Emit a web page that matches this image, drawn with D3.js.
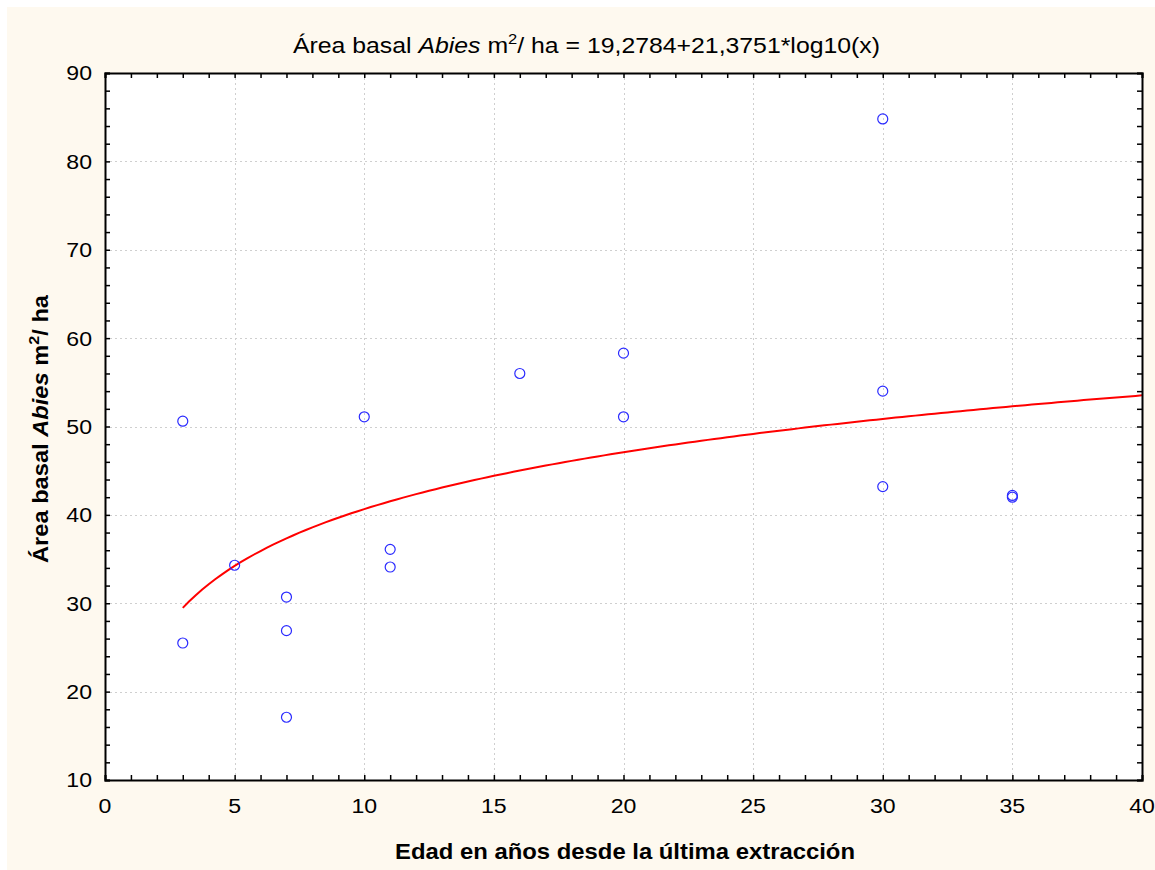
<!DOCTYPE html>
<html><head><meta charset="utf-8">
<script src="https://cdn.jsdelivr.net/npm/d3@7"></script>
<style>
html,body{margin:0;padding:0;background:#fff;}
svg{display:block;}
text{font-family:"Liberation Sans",Arial,sans-serif;}
</style></head>
<body>
<svg id="chart" width="1155" height="870"></svg>
<script>
const xValues = [3, 3, 5, 7, 7, 7, 10, 11, 11, 16, 20, 20, 30, 30, 30, 35, 35];
const yValues = [50.6, 25.5, 34.3, 30.7, 26.9, 17.1, 51.1, 36.1, 34.1, 56.0, 58.3, 51.1, 84.8, 54.0, 43.2, 42.2, 42.0];
const fitCoefficients = [19.2784, 21.3751]; // y = a + b*log10(x)
const fitRange = [3, 40];
const xTicks = [0, 5, 10, 15, 20, 25, 30, 35, 40];
const yTicks = [10, 20, 30, 40, 50, 60, 70, 80, 90];

const svg = d3.select("#chart");
svg.append("rect").attr("x", 7).attr("y", 7).attr("width", 1148).attr("height", 863).attr("fill", "#fef9ef");

const L = 105, R = 1142, T = 73, B = 780;
const x = d3.scaleLinear().domain([0, 40]).range([L, R]);
const y = d3.scaleLinear().domain([10, 90]).range([B, T]);

svg.append("rect").attr("x", L).attr("y", T).attr("width", R - L).attr("height", B - T).attr("fill", "#fff");

// grid
const grid = svg.append("g").attr("stroke", "#cfcfcf").attr("stroke-width", 1).attr("stroke-dasharray", "2,3");
xTicks.slice(1, -1).forEach(v => grid.append("line").attr("x1", Math.round(x(v)) + 0.5).attr("x2", Math.round(x(v)) + 0.5).attr("y1", T).attr("y2", B));
yTicks.slice(1, -1).forEach(v => grid.append("line").attr("y1", Math.round(y(v)) + 0.5).attr("y2", Math.round(y(v)) + 0.5).attr("x1", L).attr("x2", R));

// fit curve
const fitX = d3.range(fitRange[0], fitRange[1] + 0.001, 0.25);
const line = d3.line().x(d => x(d)).y(d => y(fitCoefficients[0] + fitCoefficients[1] * Math.log10(d)));
svg.append("path").datum(fitX).attr("d", line).attr("fill", "none").attr("stroke", "#ff0000").attr("stroke-width", 2);

// points
svg.append("g").selectAll("circle").data(xValues.map((v, i) => [v, yValues[i]])).join("circle")
  .attr("cx", d => x(d[0])).attr("cy", d => y(d[1])).attr("r", 5)
  .attr("fill", "none").attr("stroke", "#2a2aff").attr("stroke-width", 1.2);

// axes with minor ticks
const minorX = d3.range(0, 41, 1), minorY = d3.range(10, 91, 2);
const axB = d3.axisBottom(x).tickValues(minorX).tickSize(-5).tickFormat("");
const axT = d3.axisTop(x).tickValues(minorX).tickSize(-5).tickFormat("");
const axL = d3.axisLeft(y).tickValues(minorY).tickSize(-5).tickFormat("");
const axR = d3.axisRight(y).tickValues(minorY).tickSize(-5).tickFormat("");
[[axB, `translate(0,${B})`], [axT, `translate(0,${T})`], [axL, `translate(${L},0)`], [axR, `translate(${R},0)`]].forEach(([a, t]) => {
  const g = svg.append("g").attr("transform", t).call(a);
  g.select(".domain").attr("stroke", "#000").attr("stroke-width", 2);
  g.selectAll(".tick line").attr("stroke", "#000").attr("stroke-width", 1.5);
});

// tick labels
svg.append("g").selectAll("text").data(xTicks).join("text")
  .attr("x", d => x(d)).attr("y", 813).attr("text-anchor", "middle").attr("font-size", 21).attr("fill", "#000")
  .attr("transform", d => `translate(${x(d)},0) scale(1.1,1) translate(${-x(d)},0)`).text(d => d);
svg.append("g").selectAll("text").data(yTicks).join("text")
  .attr("x", 92).attr("y", d => y(d) + 7.5).attr("text-anchor", "end").attr("font-size", 21).attr("fill", "#000")
  .attr("transform", "translate(92,0) scale(1.1,1) translate(-92,0)").text(d => d);

// title
const title = svg.append("text").attr("x", 293).attr("y", 53).attr("font-size", 22.5).attr("fill", "#000")
  .attr("textLength", 587).attr("lengthAdjust", "spacingAndGlyphs");
title.append("tspan").text("Área basal ");
title.append("tspan").attr("font-style", "italic").text("Abies");
title.append("tspan").text(" m");
title.append("tspan").attr("font-size", 15).attr("dy", -9).text("2");
title.append("tspan").attr("dy", 9).text("/ ha = 19,2784+21,3751*log10(x)");

// x axis title
svg.append("text").attr("x", 395).attr("y", 859).attr("font-size", 22).attr("font-weight", "bold")
  .attr("textLength", 460).attr("lengthAdjust", "spacingAndGlyphs").text("Edad en años desde la última extracción");

// y axis title
const yt = svg.append("text").attr("transform", "translate(48,563) rotate(-90)").attr("font-size", 22).attr("font-weight", "bold")
  .attr("textLength", 268).attr("lengthAdjust", "spacingAndGlyphs");
yt.append("tspan").text("Área basal ");
yt.append("tspan").attr("font-style", "italic").text("Abies");
yt.append("tspan").text(" m");
yt.append("tspan").attr("font-size", 15).attr("dy", -9).text("2");
yt.append("tspan").attr("dy", 9).text("/ ha");
</script>
</body></html>
